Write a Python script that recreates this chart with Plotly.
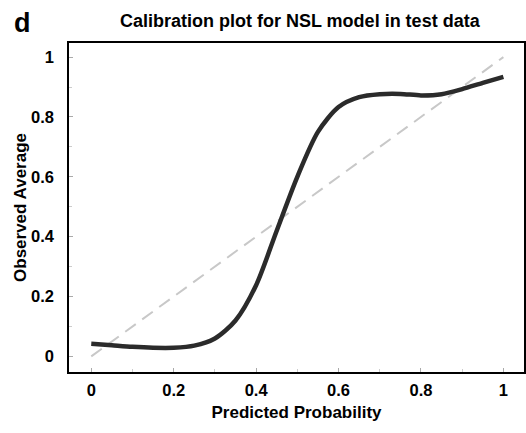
import plotly.graph_objects as go

x_pred = [0.0, 0.05, 0.1, 0.15, 0.2, 0.25, 0.3, 0.35, 0.4, 0.45, 0.5, 0.55, 0.6, 0.65, 0.7, 0.75, 0.8, 0.85, 0.9, 0.95, 1.0]
y_obs = [0.042, 0.037, 0.032, 0.029, 0.029, 0.036, 0.06, 0.12, 0.238, 0.42, 0.6, 0.75, 0.833, 0.866, 0.876, 0.877, 0.872, 0.876, 0.893, 0.914, 0.934]
ref_x = [0, 1]
ref_y = [0, 1]
tick_vals = [0, 0.2, 0.4, 0.6, 0.8, 1]
tick_text = ["0", "0.2", "0.4", "0.6", "0.8", "1"]

FONT = "Arial, 'Liberation Sans', sans-serif"

fig = go.Figure()
fig.add_trace(go.Scatter(x=ref_x, y=ref_y, mode="lines",
                         line=dict(color="#c8c8c8", width=2, dash="13px,8px"),
                         showlegend=False, hoverinfo="skip"))
fig.add_trace(go.Scatter(x=x_pred, y=y_obs, mode="lines",
                         line=dict(color="#2b2b2b", width=4.5, shape="spline", smoothing=0.8),
                         showlegend=False))

axis_common = dict(
    showline=True, linecolor="black", linewidth=1.6, mirror=True,
    showgrid=False, zeroline=False, automargin=False,
    ticks="inside", ticklen=4, tickwidth=1, tickcolor="#aaaaaa",
    tickvals=tick_vals, ticktext=tick_text,
    tickfont=dict(family=FONT, size=16.5, color="black", weight="bold"),
    minor=dict(ticks="inside", ticklen=3, tickwidth=1, tickcolor="#cccccc", dtick=0.1, tick0=0, showgrid=False),
)

fig.update_xaxes(range=[-0.054, 1.05],
                 title=dict(text="<b>Predicted Probability</b>", font=dict(family=FONT, size=17, color="black"), standoff=9),
                 ticklabelstandoff=2, **axis_common)
fig.update_yaxes(range=[-0.052, 1.047],
                 title=dict(text="<b>Observed Average</b>", font=dict(family=FONT, size=17, color="black"), standoff=0),
                 ticklabelstandoff=10, **axis_common)

fig.update_layout(
    width=526, height=433,
    margin=dict(l=69, r=2, t=43, b=61),
    paper_bgcolor="white", plot_bgcolor="white",
    title=dict(text="<b>Calibration plot for NSL model in test data</b>",
               font=dict(family=FONT, size=18, color="black"),
               x=0.57, xanchor="center", y=0.9515, yanchor="middle", automargin=False),
    annotations=[dict(text="<b>d</b>", x=-0.103, y=1.06, xref="paper", yref="paper",
                      xanchor="center", yanchor="middle", showarrow=False,
                      font=dict(family=FONT, size=27, color="black"))],
)

fig.write_html("out.html", config={"displayModeBar": False},
               post_script="document.body.style.margin='0';")
